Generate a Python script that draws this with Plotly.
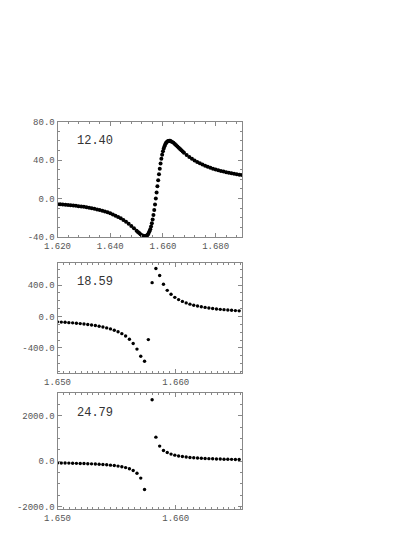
import plotly.graph_objects as go

# panel 1 (label 12.40): densely sampled curve
x_a = [1.620, 1.621, 1.622, 1.623, 1.624, 1.625, 1.626, 1.627, 1.628, 1.629,
       1.630, 1.631, 1.632, 1.633, 1.634, 1.635, 1.636, 1.637, 1.638, 1.639,
       1.640, 1.641, 1.642, 1.643, 1.644, 1.645, 1.646, 1.647, 1.648, 1.649,
       1.650, 1.6505, 1.651, 1.6515, 1.652, 1.6525,
       1.6528, 1.6531, 1.6534, 1.6537, 1.6540, 1.6543, 1.6546, 1.6549, 1.6552,
       1.6555, 1.6558, 1.6561, 1.6564, 1.6567, 1.6570, 1.6573, 1.6576, 1.6579,
       1.6582, 1.6585, 1.6588, 1.6591, 1.6594, 1.6597, 1.6600, 1.6603, 1.6606,
       1.6609, 1.6612, 1.6615, 1.6618, 1.6621, 1.6624, 1.6627,
       1.663, 1.6635, 1.664, 1.6645, 1.665, 1.6655, 1.666, 1.6665, 1.667,
       1.6675, 1.668,
       1.669, 1.670, 1.671, 1.672, 1.673, 1.674, 1.675, 1.676, 1.677, 1.678,
       1.679, 1.680, 1.681, 1.682, 1.683, 1.684, 1.685, 1.686, 1.687, 1.688,
       1.689, 1.690]
y_a = [-6.0, -6.1, -6.3, -6.6, -6.8, -7.0, -7.3, -7.6, -8.0, -8.3,
       -8.7, -9.1, -9.6, -10.1, -10.7, -11.3, -12.0, -12.7, -13.5, -14.4,
       -15.4, -16.5, -17.8, -19.1, -20.6, -22.3, -24.2, -26.2, -28.5, -30.9,
       -33.4, -34.7, -35.9, -37.1, -38.1, -38.8,
       -39.1, -39.2, -39.1, -38.8, -38.2, -37.3, -35.9, -34.1, -31.9,
       -29.1, -25.7, -21.7, -17.1, -11.9, -6.2, -0.1, 6.2, 12.7,
       19.0, 25.2, 31.0, 36.4, 41.2, 45.4, 49.0, 52.0, 54.4,
       56.3, 57.8, 58.8, 59.5, 59.8, 60.0, 59.9,
       59.6, 58.8, 57.8, 56.7, 55.4, 54.1, 52.7, 51.4, 50.1,
       48.8, 47.6,
       45.3, 43.2, 41.2, 39.5, 37.9, 36.5, 35.2, 34.0, 32.9, 31.9,
       31.0, 30.2, 29.4, 28.7, 28.0, 27.4, 26.8, 26.2, 25.7, 25.2,
       24.8, 24.4]

# panels 2 and 3 share the same sampling
x_bc = [1.65000, 1.65032, 1.65064, 1.65096, 1.65128, 1.65160, 1.65192, 1.65224,
        1.65256, 1.65288, 1.65320, 1.65352, 1.65384, 1.65416, 1.65448, 1.65480,
        1.65512, 1.65544, 1.65576, 1.65608, 1.65640, 1.65672, 1.65704, 1.65736,
        1.65768, 1.65800, 1.65832, 1.65864, 1.65896, 1.65928, 1.65960, 1.65992,
        1.66024, 1.66056, 1.66088, 1.66120, 1.66152, 1.66184, 1.66216, 1.66248,
        1.66280, 1.66312, 1.66344, 1.66376, 1.66408, 1.66440, 1.66472, 1.66504,
        1.66536]
y_b = [-69, -72, -75, -79, -82, -87, -91, -96, -102, -109, -116, -125, -134,
       -146, -159, -175, -195, -219, -250, -291, -344, -416, -506, -570,
       -295, 430, 610, 520, 410, 332, 282, 243, 214, 191, 172, 156, 143, 132,
       123, 115, 107, 101, 95, 90, 86, 82, 78, 74, 71]
y_c = [-73, -76, -79, -83, -87, -92, -97, -102, -109, -116, -124, -133, -144,
       -156, -172, -190, -213, -242, -280, -331, -406, -525, -742, -1240,
       None, 2700, 1060, 665, 475, 382, 314, 267, 232, 205, 184, 167, 152, 140,
       130, 121, 113, 107, 101, 95, 90, 86, 82, 78, 75]

labels = ["12.40", "18.59", "24.79"]

x_ticks_a = [1.62, 1.64, 1.66, 1.68]
x_ticks_bc = [1.65, 1.66]
y_ticks = [[-40, 0, 40, 80], [-400, 0, 400], [-2000, 0, 2000]]

fig = go.Figure()
fig.add_trace(go.Scatter(x=x_a, y=y_a, mode="markers", xaxis="x", yaxis="y",
                         marker=dict(color="black", size=4)))
fig.add_trace(go.Scatter(x=x_bc, y=y_b, mode="markers", xaxis="x2", yaxis="y2",
                         marker=dict(color="black", size=3.4)))
fig.add_trace(go.Scatter(x=x_bc, y=y_c, mode="markers", xaxis="x3", yaxis="y3",
                         marker=dict(color="black", size=3.4)))

tick_font = dict(family="Liberation Mono", size=9, color="#555555")
frame = dict(showline=True, linecolor="#888888", linewidth=1, mirror="allticks",
             ticks="inside", ticklen=4, tickcolor="#888888", showgrid=False,
             zeroline=False, tickfont=tick_font, automargin=False)


def fmt(v):
    return "%.3f" % v


def xax(dom, rng, vals, minor_step, anchor):
    return dict(frame, domain=dom, range=rng, anchor=anchor,
                tickmode="array", tickvals=vals, ticktext=[fmt(v) for v in vals],
                minor=dict(ticks="inside", ticklen=2, tickcolor="#888888",
                           tickmode="linear", tick0=rng[0], dtick=minor_step))


def yax(dom, rng, vals, minor_step, anchor):
    return dict(frame, domain=dom, range=rng, anchor=anchor,
                tickmode="array", tickvals=vals, ticktext=["%.1f" % v for v in vals],
                minor=dict(ticks="inside", ticklen=2, tickcolor="#888888",
                           tickmode="linear", tick0=0, dtick=minor_step))


# page body adds an 8 px offset, so positions are taken 8 px up/left
W, H = 415, 537
xdom = [49.5 / W, 234 / W]
ydoms = [[1 - 229 / H, 1 - 113.5 / H],
         [1 - 365 / H, 1 - 255 / H],
         [1 - 501 / H, 1 - 385 / H]]

fig.update_layout(
    width=W, height=H,
    margin=dict(l=0, r=0, t=0, b=0),
    paper_bgcolor="white", plot_bgcolor="white",
    showlegend=False,
    xaxis=xax(xdom, [1.62, 1.69], x_ticks_a, 0.004, "y"),
    yaxis=yax(ydoms[0], [-40, 80], y_ticks[0], 10, "x"),
    xaxis2=xax(xdom, [1.65, 1.6656], x_ticks_bc, 0.0005, "y2"),
    yaxis2=yax(ydoms[1], [-720, 680], y_ticks[1], 100, "x2"),
    xaxis3=xax(xdom, [1.65, 1.6656], x_ticks_bc, 0.0005, "y3"),
    yaxis3=yax(ydoms[2], [-2100, 3000], y_ticks[2], 500, "x3"),
)

for i, txt in enumerate(labels):
    sfx = "" if i == 0 else str(i + 1)
    fig.add_annotation(text=txt, xref="x%s domain" % sfx, yref="y%s domain" % sfx,
                       x=0.095, y=0.83, xanchor="left", yanchor="middle",
                       showarrow=False,
                       font=dict(family="Liberation Mono", size=12, color="#333333"))

fig.write_html("out.html")
